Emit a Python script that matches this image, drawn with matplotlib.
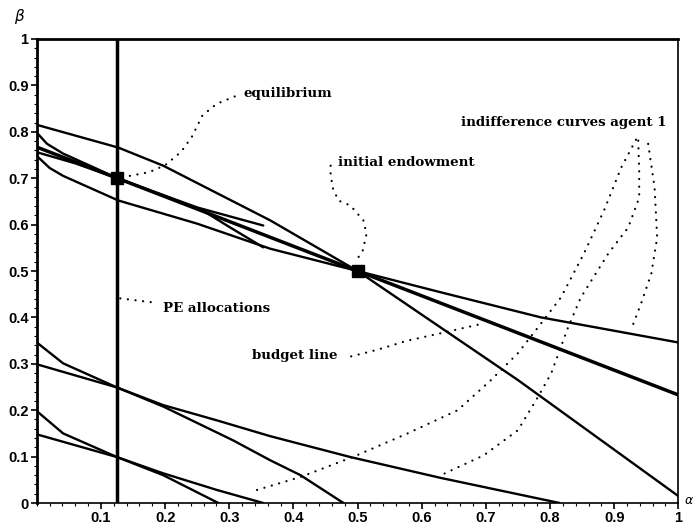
import numpy as np
import matplotlib
matplotlib.use("Agg")
import matplotlib.pyplot as plt
from matplotlib.ticker import MultipleLocator

# allocations (alpha, beta)
pe_x = 0.125
equilibrium = (0.125, 0.70)
endowment = (0.5, 0.5)

budget_x = [0.0, 1.0]
budget_y = [0.767, 0.233]

# agent 2 indifference curve through the endowment
ic2_end_x = [0.0, 0.127, 0.197, 0.364, 0.5, 0.75, 0.88, 1.0]
ic2_end_y = [0.815, 0.766, 0.727, 0.609, 0.5, 0.265, 0.135, 0.015]
# agent 1 indifference curve through the endowment
ic1_end_x = [0.0, 0.02, 0.041, 0.127, 0.25, 0.364, 0.5, 0.63, 0.786, 1.0]
ic1_end_y = [0.748, 0.722, 0.705, 0.652, 0.602, 0.548, 0.5, 0.454, 0.40, 0.346]
# agent 1 indifference curve through the equilibrium
ic1_eq_x = [0.0, 0.016, 0.041, 0.094, 0.125, 0.25, 0.353]
ic1_eq_y = [0.798, 0.774, 0.753, 0.72, 0.70, 0.637, 0.598]
# agent 2 indifference curve through the equilibrium
ic2_eq_x = [0.0, 0.06, 0.125, 0.259, 0.30, 0.353]
ic2_eq_y = [0.756, 0.732, 0.70, 0.630, 0.595, 0.551]

# lower allocations on the PE line
low1_a_x = [0.0, 0.125, 0.197, 0.281, 0.364, 0.489, 0.63, 0.815]
low1_a_y = [0.299, 0.249, 0.211, 0.178, 0.144, 0.099, 0.054, 0.0]
low1_b_x = [0.0, 0.041, 0.125, 0.197, 0.306, 0.364, 0.411, 0.478]
low1_b_y = [0.346, 0.301, 0.249, 0.208, 0.135, 0.092, 0.06, 0.0]
low2_c_x = [0.0, 0.125, 0.197, 0.281, 0.353]
low2_c_y = [0.148, 0.099, 0.064, 0.028, 0.0]
low2_d_x = [0.0, 0.041, 0.125, 0.197, 0.283]
low2_d_y = [0.198, 0.150, 0.099, 0.06, 0.0]

# dotted leaders for the labels
lead_eq_x = [0.145, 0.175, 0.2, 0.225, 0.242, 0.258, 0.28, 0.31]
lead_eq_y = [0.705, 0.713, 0.728, 0.757, 0.79, 0.835, 0.86, 0.877]
lead_end_x = [0.458, 0.458, 0.461, 0.47, 0.489, 0.509, 0.514, 0.508, 0.5]
lead_end_y = [0.727, 0.71, 0.68, 0.652, 0.641, 0.609, 0.58, 0.544, 0.527]
lead_pe_x = [0.13, 0.183]
lead_pe_y = [0.441, 0.432]
lead_bud_x = [0.49, 0.53, 0.578, 0.63, 0.69]
lead_bud_y = [0.316, 0.33, 0.35, 0.366, 0.385]
lead_ic_l_x = [0.934, 0.911, 0.884, 0.853, 0.817, 0.786, 0.75, 0.708, 0.656, 0.578, 0.494, 0.411, 0.333]
lead_ic_l_y = [0.783, 0.723, 0.63, 0.538, 0.443, 0.387, 0.323, 0.265, 0.2, 0.15, 0.1, 0.056, 0.024]
lead_ic_m_x = [0.9375, 0.939, 0.939, 0.922, 0.891, 0.848, 0.828, 0.802, 0.781, 0.75, 0.697, 0.63]
lead_ic_m_y = [0.781, 0.716, 0.658, 0.594, 0.538, 0.443, 0.378, 0.28, 0.228, 0.157, 0.103, 0.06]
lead_ic_r_x = [0.953, 0.963, 0.967, 0.958, 0.942, 0.927]
lead_ic_r_y = [0.774, 0.68, 0.572, 0.495, 0.43, 0.376]

labels = ["equilibrium", "initial endowment", "indifference curves agent 1",
          "PE allocations", "budget line"]
label_pos = [(0.322, 0.882), (0.47, 0.733), (0.661, 0.819), (0.197, 0.42), (0.336, 0.318)]

fig = plt.figure(figsize=(6.95, 5.27), dpi=100)
ax = fig.add_axes([0.053, 0.0455, 0.923, 0.8805])

lw = 1.7
ax.plot([pe_x, pe_x], [0, 1], color="black", lw=2.5)
ax.plot(budget_x, budget_y, color="black", lw=2.5)
for xs, ys in [(ic2_end_x, ic2_end_y), (ic1_end_x, ic1_end_y), (ic1_eq_x, ic1_eq_y),
               (ic2_eq_x, ic2_eq_y), (low1_a_x, low1_a_y), (low1_b_x, low1_b_y),
               (low2_c_x, low2_c_y), (low2_d_x, low2_d_y)]:
    ax.plot(xs, ys, color="black", lw=lw, solid_capstyle="round")

for xs, ys in [(lead_eq_x, lead_eq_y), (lead_end_x, lead_end_y), (lead_pe_x, lead_pe_y),
               (lead_bud_x, lead_bud_y), (lead_ic_l_x, lead_ic_l_y),
               (lead_ic_m_x, lead_ic_m_y), (lead_ic_r_x, lead_ic_r_y)]:
    ax.plot(xs, ys, color="black", lw=1.6, linestyle=(0, (0.05, 3.4)), dash_capstyle="round")

ax.plot(*equilibrium, marker="s", ms=9, color="black")
ax.plot(*endowment, marker="s", ms=8, color="black")

for txt, (tx, ty) in zip(labels, label_pos):
    ax.text(tx, ty, txt, family="DejaVu Serif", fontweight="bold", fontsize=9.6,
            ha="left", va="center")

ax.set_xlim(0, 1)
ax.set_ylim(0, 1)
ax.set_xticks(np.arange(1, 11) / 10)
ax.set_xticklabels(["0.1", "0.2", "0.3", "0.4", "0.5", "0.6", "0.7", "0.8", "0.9", "1"])
ax.set_yticks(np.arange(0, 11) / 10)
ax.set_yticklabels(["0", "0.1", "0.2", "0.3", "0.4", "0.5", "0.6", "0.7", "0.8", "0.9", "1"])
ax.xaxis.set_minor_locator(MultipleLocator(0.02))
ax.yaxis.set_minor_locator(MultipleLocator(0.02))
ax.tick_params(which="major", length=4, width=1.2, labelsize=10.5, pad=2)
ax.tick_params(which="minor", length=2, width=0.8)
for lab in ax.get_xticklabels() + ax.get_yticklabels():
    lab.set_family("Liberation Sans")
    lab.set_fontweight("bold")

ax.spines["top"].set_linewidth(2.0)
ax.spines["left"].set_linewidth(2.0)
ax.spines["right"].set_linewidth(1.2)
ax.spines["bottom"].set_linewidth(1.2)

fig.text(20 / 695, 1 - 17 / 527, r"$\beta$", fontsize=11, ha="center", va="center")
fig.text(684 / 695, 1 - 500 / 527, r"$\alpha$", fontsize=9, ha="left", va="center")

fig.savefig("out.png", dpi=100)
